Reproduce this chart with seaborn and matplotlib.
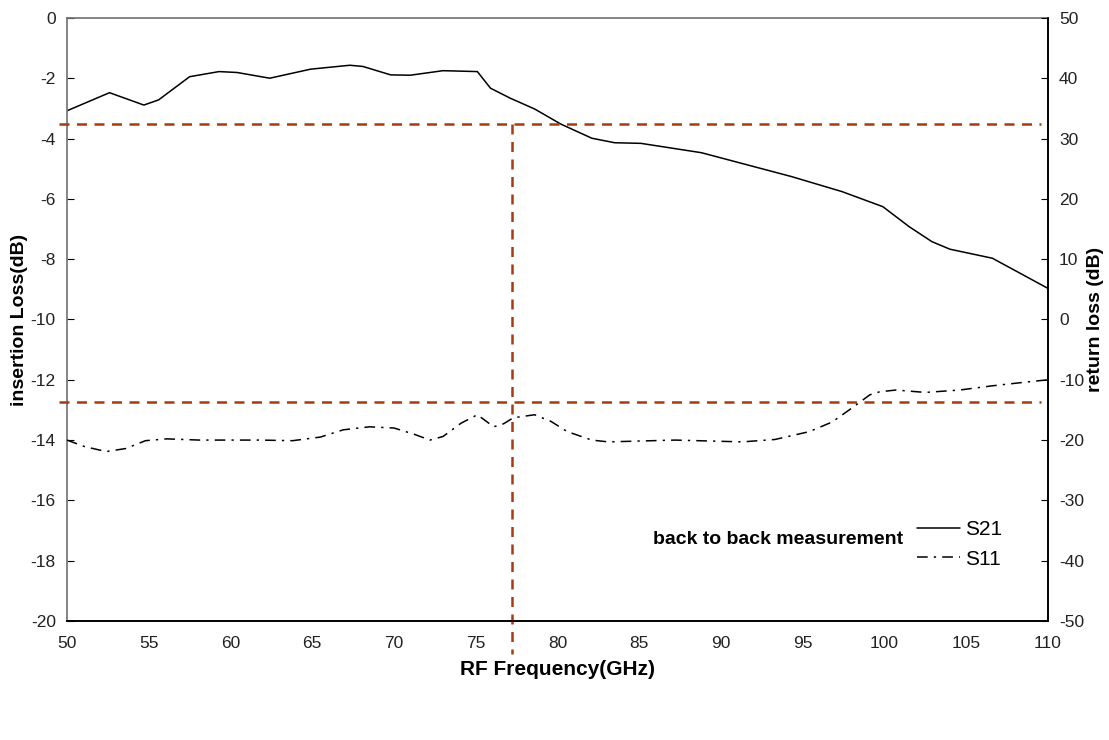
import pandas as pd
import seaborn as sns
import matplotlib.pyplot as plt
from matplotlib.lines import Line2D

# S21 insertion loss (left axis, dB)
s21_freq = [50, 52.6, 54.7, 55.6, 57.5, 59.3, 60.4, 62.4, 64.9, 67.3, 68.1, 69.8, 71.0,
            73.0, 75.1, 75.9, 77.1, 78.6, 80.2, 82.1, 83.5, 85.1, 88.8, 94.3, 97.4,
            99.9, 101.5, 102.9, 104.0, 106.6, 110]
s21_db = [-3.08, -2.48, -2.89, -2.72, -1.95, -1.78, -1.81, -2.0, -1.70, -1.57, -1.61, -1.89,
          -1.90, -1.75, -1.78, -2.33, -2.66, -3.02, -3.52, -3.99, -4.14, -4.16, -4.47, -5.26,
          -5.76, -6.26, -6.92, -7.42, -7.67, -7.97, -8.97]

# S11 return loss (right axis, dB)
s11_freq = [50, 51.1, 52.4, 53.6, 54.8, 56.1, 58.1, 61.8, 63.8, 65.5, 66.9, 68.5, 70.0,
            71.2, 72.2, 73.0, 74.1, 75.1, 76.1, 76.7, 77.3, 78.6, 79.6, 80.6, 82.1, 83.1,
            87.2, 91.3, 93.3, 95.4, 96.8, 98.0, 99.1, 99.7, 100.7, 102.5, 104.6, 106.6,
            108.6, 110]
s11_db = [-20.0, -21.1, -21.9, -21.4, -20.1, -19.8, -20.0, -20.0, -20.1, -19.5, -18.3, -17.8,
          -18.0, -19.0, -20.0, -19.4, -17.2, -15.8, -17.8, -17.3, -16.3, -15.8, -16.9, -18.6,
          -20.0, -20.3, -20.0, -20.3, -19.9, -18.6, -17.0, -14.7, -12.5, -12.0, -11.7, -12.1,
          -11.7, -11.0, -10.4, -10.0]

# reference markers
ref_levels = [-3.52, -12.75]
ref_freq = 77.2

left_ticks = list(range(0, -21, -2))
right_ticks = list(range(50, -51, -10))
x_ticks = list(range(50, 111, 5))

df21 = pd.DataFrame({"freq": s21_freq, "db": s21_db})
df11 = pd.DataFrame({"freq": s11_freq, "db": s11_db})

sns.set_style("white")
plt.rcParams['font.family'] = ['Liberation Sans Narrow', 'Liberation Sans', 'DejaVu Sans']
plt.rcParams['axes.unicode_minus'] = False
plt.rcParams['text.color'] = 'black'
plt.rcParams['axes.labelcolor'] = 'black'

fig = plt.figure(figsize=(11.09, 7.40), dpi=100)
ax = fig.add_axes([0.0604, 0.1608, 0.8846, 0.815])
ax2 = ax.twinx()

sns.lineplot(data=df21, x="freq", y="db", ax=ax, color="black", linewidth=1.1)
sns.lineplot(data=df11, x="freq", y="db", ax=ax2, color="black", linewidth=1.1,
             linestyle=(0, (7, 4, 1.5, 4)))

red = "#a63a10"
for lvl in ref_levels:
    ax.plot([49.5, 109.6], [lvl, lvl], color=red, linestyle=(0, (4, 3)), linewidth=1.8,
            clip_on=False, zorder=5)
ax.plot([ref_freq, ref_freq], [ref_levels[0], -21.1], color=red, linestyle=(0, (4, 3)),
        linewidth=1.8, clip_on=False, zorder=5)

ax.set_xlim(50, 110)
ax.set_ylim(-20, 0)
ax2.set_ylim(-50, 50)
ax.set_xticks(x_ticks)
ax.set_yticks(left_ticks)
ax2.set_yticks(right_ticks)
ax.tick_params(axis="both", direction="in", length=5, labelsize=12.5, pad=8,
               labelcolor="#222222", color="black")
ax2.tick_params(axis="y", direction="in", length=5, labelsize=12.5, pad=8,
                labelcolor="#222222", color="black")
ax.tick_params(axis="x", pad=11)

ax.set_xlabel("RF Frequency(GHz)", fontsize=15, family=['Liberation Sans'],
              fontweight="bold", labelpad=6)
ax.set_ylabel("insertion Loss(dB)", fontsize=14, family=['Liberation Sans'],
              fontweight="bold", labelpad=2)
ax2.set_ylabel("return loss (dB)", fontsize=14, family=['Liberation Sans'],
               fontweight="bold", labelpad=2)

for a in (ax, ax2):
    for s in ("left", "bottom", "right", "top"):
        a.spines[s].set_color("black")
        a.spines[s].set_linewidth(1.2)
ax.spines["left"].set_color("#707070")
ax.spines["top"].set_color("#707070")
ax2.spines["left"].set_visible(False)
ax2.spines["top"].set_visible(False)

handles = [Line2D([], [], color="black", linewidth=1.1),
           Line2D([], [], color="black", linewidth=1.1, linestyle=(0, (7, 4, 1.5, 4)))]
ax.legend(handles, ["S21", "S11"], loc="upper left", bbox_to_anchor=(0.866, 0.167),
          frameon=False, borderpad=0, borderaxespad=0, handlelength=2.1,
          handletextpad=0.25, labelspacing=0.5,
          prop={"family": "Liberation Sans", "size": 15})
ax.text(0.597, 0.135, "back to back measurement", transform=ax.transAxes,
        fontsize=14, family=['Liberation Sans'], fontweight="bold",
        va="center", ha="left")

fig.savefig("out.png", dpi=100)
